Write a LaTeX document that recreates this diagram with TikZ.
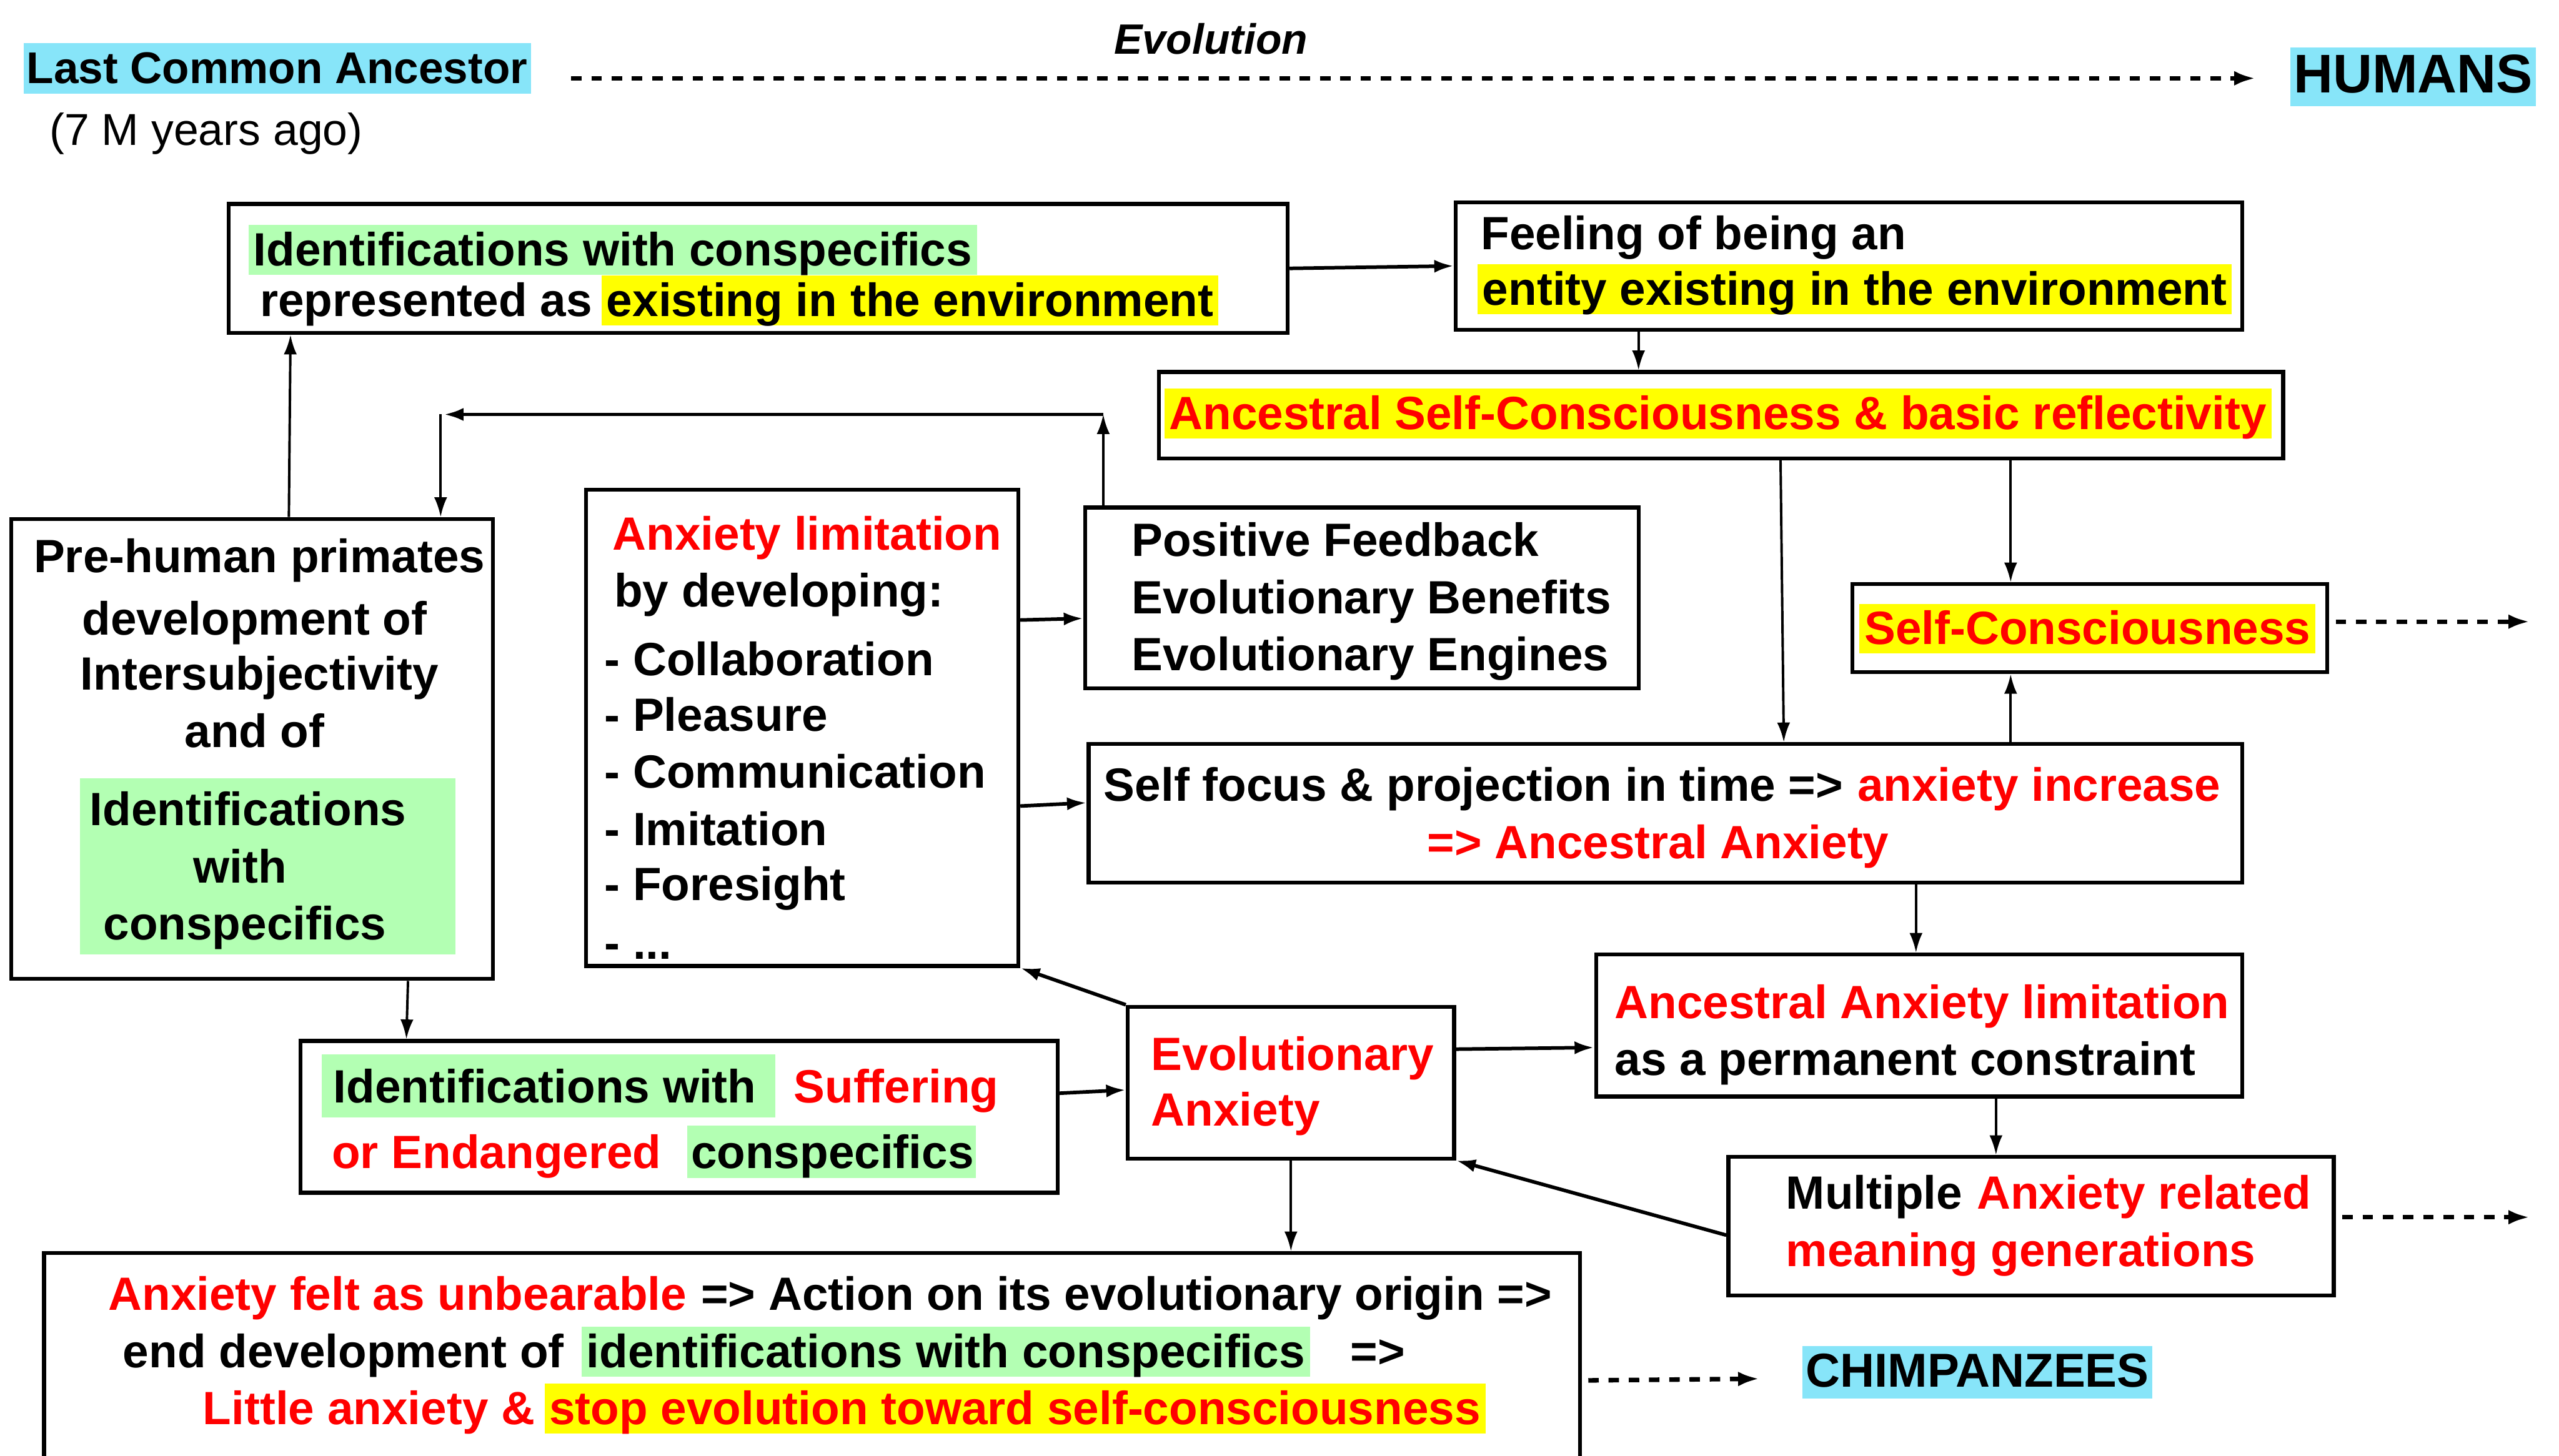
\documentclass[tikz,border=0pt]{standalone}
\usepackage{fontspec}
\setmainfont{Liberation Sans}
\usetikzlibrary{arrows.meta,fit,calc}
\definecolor{hcyan}{RGB}{135,229,249}
\definecolor{hgreen}{RGB}{179,255,179}
\definecolor{hyellow}{RGB}{255,255,0}
\definecolor{hred}{RGB}{255,0,0}
\newcommand\bxf{\bfseries\fontsize{14.3}{17}\selectfont}
\begin{document}
\begin{tikzpicture}[x=0.5pt,y=-0.5pt,
  box/.style={draw=black, line width=1.2pt, inner sep=0pt},
  txt/.style={anchor=base west, inner sep=0pt, font=\bxf},
  ctxt/.style={anchor=base, inner sep=0pt, font=\bxf},
  hlite/.style={anchor=base west, inner xsep=1.5pt, inner ysep=1pt, text height=11.5pt, text depth=1.8pt, font=\bxf},
  hg/.style={hlite, fill=hgreen},
  hy/.style={hlite, fill=hyellow},
  fillg/.style={fill=hgreen, inner sep=0pt},
  arr/.style={-{Latex[length=6pt,width=4pt]}, line width=0.75pt},
  tarr/.style={arr, line width=1.1pt},
  dsh/.style={-{Latex[length=6.5pt,width=4.5pt]}, line width=1.4pt, dash pattern=on 3.2pt off 3pt},
]
\clip (0,0) rectangle (1568,892);
\fill[white] (0,0) rectangle (1568,892);

% ---------- top line ----------
\node[fill=hcyan, anchor=base west, inner xsep=1pt, inner ysep=1.25pt, text height=11pt, text depth=2pt,
      font=\bfseries\fontsize{13.6}{16}\selectfont] (lca) at (14,51) {Last Common Ancestor};
\node[anchor=base west, inner sep=0pt, font=\fontsize{13.7}{16}\selectfont] (mya) at (30,89) {(7 M years ago)};
\node[anchor=base, inner sep=0pt, font=\bfseries\itshape\fontsize{13}{15}\selectfont] (evo) at (742,33) {Evolution};
\node[fill=hcyan, anchor=base west, inner xsep=1pt, inner ysep=1pt, text height=13pt, text depth=3pt,
      font=\bfseries\fontsize{16.7}{19}\selectfont] (hum) at (1403,57) {HUMANS};
\node[fill=hcyan, anchor=base west, inner xsep=1pt, inner ysep=1pt, text height=11.5pt, text depth=2.5pt,
      font=\bfseries\fontsize{14.6}{17}\selectfont] (chimp) at (1104,850) {CHIMPANZEES};
\coordinate (evs) at (350,48);
\coordinate (eve) at (1382,48);
\draw[dsh] (evs) -- (eve);

% ---------- boxes ----------
\node[box, fit={(140,125)(789,204)}] (b1) {};
\node[hg] (b1a) at (152,163) {Identifications with conspecifics};
\node[txt] (b1b) at (159,194) {represented as};
\node[hy] (b1c) at ([xshift=2.5pt]b1b.base east) {existing in the environment};

\node[box, fit={(892,124)(1374,202)}] (b2) {};
\node[txt] (b2a) at (907,153) {Feeling of being an};
\node[hy] (b2b) at (905,187) {entity existing in the environment};

\node[box, fit={(710,228)(1399,281)}] (b3) {};
\node[hy, text=hred] (b3a) at (713,263) {Ancestral Self-Consciousness \& basic reflectivity};

\node[box, fit={(7,318)(302,600)}] (pre) {};
\node[ctxt] (pre1) at (159,351) {Pre-human primates};
\node[ctxt] (pre2) at (156,389) {development of};
\node[ctxt] (pre3) at (159,423) {Intersubjectivity};
\node[ctxt] (pre4) at (156,458) {and of};
\node[fillg, fit={(49,477)(279,585)}] (preg) {};
\node[ctxt] (pre5) at (152,506) {Identifications};
\node[ctxt] (pre6) at (147,541) {with};
\node[ctxt] (pre7) at (150,576) {conspecifics};

\node[box, fit={(359,300)(624,592)}] (al) {};
\node[txt, text=hred] (al1) at (375,337) {Anxiety limitation};
\node[txt] (al2) at (376,372) {by developing:};
\node[txt] (al3) at (370,414) {- Collaboration};
\node[txt] (al4) at (370,448) {- Pleasure};
\node[txt] (al5) at (370,483) {- Communication};
\node[txt] (al6) at (370,518) {- Imitation};
\node[txt] (al7) at (370,552) {- Foresight};
\node[txt] (al8) at (370,588) {- ...};

\node[box, fit={(665,311)(1004,422)}] (pf) {};
\node[txt] (pf1) at (693,341) {Positive Feedback};
\node[txt] (pf2) at (693,376) {Evolutionary Benefits};
\node[txt] (pf3) at (693,411) {Evolutionary Engines};

\node[box, fit={(1135,358)(1426,412)}] (sc) {};
\node[hy, text=hred] (sca) at (1139,395) {Self-Consciousness};

\node[box, fit={(667,456)(1374,541)}] (sf) {};
\node[txt] (sf1) at (676,491) {Self focus \& projection in time =>};
\node[txt, text=hred] (sf2) at ([xshift=4pt]sf1.base east) {anxiety increase};
\node[ctxt, text=hred] (sf3) at (1016,526) {=> Ancestral Anxiety};

\node[box, fit={(978,585)(1374,672)}] (aal) {};
\node[txt, text=hred] (aal1) at (989,624) {Ancestral Anxiety limitation};
\node[txt] (aal2) at (989,659) {as a permanent constraint};

\node[box, fit={(1059,709)(1430,794)}] (mar) {};
\node[txt] (mar1) at (1094,741) {Multiple};
\node[txt, text=hred] (mar2) at ([xshift=4pt]mar1.base east) {Anxiety related};
\node[txt, text=hred] (mar3) at (1094,776) {meaning generations};

\node[box, fit={(691,617)(891,710)}] (ea) {};
\node[txt, text=hred] (ea1) at (705,656) {Evolutionary};
\node[txt, text=hred] (ea2) at (705,690) {Anxiety};

\node[box, fit={(184,638)(648,731)}] (ids) {};
\node[fillg, fit={(197,646)(475,685)}] (idsg1) {};
\node[txt] (ids1) at (204,676) {Identifications with};
\node[txt, text=hred] (ids2) at (486,676) {Suffering};
\node[txt, text=hred] (ids3) at (203,716) {or Endangered};
\node[fillg, fit={(421,690)(598,722)}] (idsg2) {};
\node[txt] (ids4) at (423,716) {conspecifics};

\node[box, fit={(27,768)(968,920)}] (bot) {};
\node[txt, text=hred] (bot1) at (66,803) {Anxiety felt as unbearable};
\node[txt] (bot2) at ([xshift=4pt]bot1.base east) {=> Action on its evolutionary origin =>};
\node[txt] (bot3) at (75,838) {end development of};
\node[hg] (bot4) at (356,838) {identifications with conspecifics};
\node[txt] (bot5) at (827,838) {=>};
\node[txt, text=hred] (bot6) at (124,873) {Little anxiety \&};
\node[hy, text=hred] (bot7) at ([xshift=2.5pt]bot6.base east) {stop evolution toward self-consciousness};

% ---------- connectors ----------
\draw[tarr] (b1.east) -- (b2.west);
\draw[arr] (1004,0 |- b2.south) -- (1004,0 |- b3.north);
\draw[arr] (177,0 |- pre.north) -- (178,0 |- b1.south);
\coordinate (fbR) at (676,254);
\coordinate (fbL) at (272,254);
\draw[arr] (676,0 |- pf.north) -- (fbR);
\draw[tarr] (fbR) -- (fbL);
\draw[arr] (270,254) -- (270,0 |- pre.north);
\draw[tarr] (al.east |- 0,380) -- (pf.west |- 0,379);
\draw[tarr] (al.east |- 0,494) -- (sf.west |- 0,492);
\draw[arr] (1232,0 |- b3.south) -- (1232,0 |- sc.north);
\draw[arr] (1091,0 |- b3.south) -- (1093,0 |- sf.north);
\draw[arr] (1232,0 |- sf.north) -- (1232,0 |- sc.south);
\coordinate (scx) at (1550,381);
\draw[dsh] ([xshift=2pt]sc.east |- 0,381) -- (scx);
\draw[arr] (1174,0 |- sf.south) -- (1174,0 |- aal.north);
\draw[arr] (1223,0 |- aal.south) -- (1223,0 |- mar.north);
\coordinate (marx) at (1550,746);
\draw[dsh] ([xshift=2pt]mar.east |- 0,746) -- (marx);
\draw[tarr] (mar.west |- 0,757) -- (ea.south east);
\draw[tarr] (ea.north west) -- (al.south east);
\draw[tarr] (ea.east |- 0,643) -- (aal.west |- 0,642);
\draw[arr] (ea.south) -- (ea.south |- bot.north);
\draw[arr] (250,0 |- pre.south) -- (249,0 |- ids.north);
\draw[tarr] (ids.east |- 0,670) -- (ea.west |- 0,668);
\coordinate (botx) at (1078,845);
\draw[dsh] ([xshift=2pt]bot.east |- 0,846) -- (botx);
\end{tikzpicture}
\end{document}
